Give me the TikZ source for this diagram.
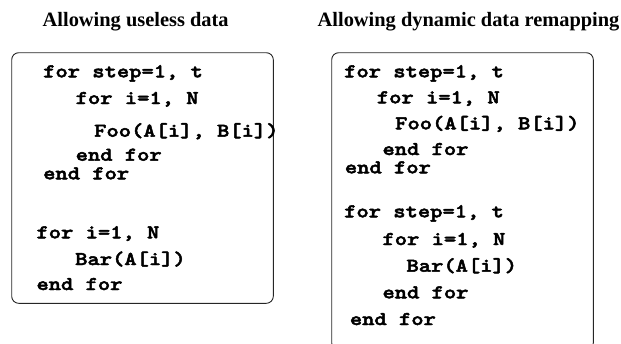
\documentclass[tikz,border=0pt]{standalone}
\usepackage{fontspec}
\setmainfont{Liberation Serif}
\newfontfamily\codefont[FakeBold=2.5,FakeStretch=1.2]{lmmonolt10-bold.otf}
\begin{document}
\begin{tikzpicture}[x=1pt,y=-1pt,
  title/.style={anchor=base west,inner sep=0pt,font=\fontsize{20.4}{24}\selectfont\bfseries},
  code/.style={anchor=base west,inner sep=0pt,font=\fontsize{19.5}{22}\selectfont\codefont},
  box/.style={draw=black!85,line width=0.9pt,rounded corners=7pt}]
\useasboundingbox (0,0) rectangle (621,343);
% titles
\node[title] (t1) at (42.5,26.7) {Allowing useless data};
\node[title] (t2) at (317.5,26.7) {Allowing dynamic data remapping};
% boxes
\draw[box] (11.7,52.7) rectangle (273.3,303.3);
\draw[box] (331.7,52.7) rectangle (593.3,350);
% left code
\node[code] (l1) at (43,77.3) {for step=1, t};
\node[code] (l2) at (75.5,104) {for i=1, N};
\node[code] (l3) at (94,136.7) {Foo(A[i], B[i])};
\node[code] (l4) at (75.5,160.7) {end for};
\node[code] (l5) at (43,179.3) {end for};
\node[code] (l6) at (36.3,238.3) {for i=1, N};
\node[code] (l7) at (75,265) {Bar(A[i])};
\node[code] (l8) at (36.3,290) {end for};
% right code
\node[code] (r1) at (344,77.3) {for step=1, t};
\node[code] (r2) at (376.7,103.3) {for i=1, N};
\node[code] (r3) at (395,129.3) {Foo(A[i], B[i])};
\node[code] (r4) at (382.3,155) {end for};
\node[code] (r5) at (344.7,173.3) {end for};
\node[code] (r6) at (344,217.3) {for step=1, t};
\node[code] (r7) at (382.3,245) {for i=1, N};
\node[code] (r8) at (406.3,271.7) {Bar(A[i])};
\node[code] (r9) at (382.3,298.3) {end for};
\node[code] (r10) at (349.7,325) {end for};
\end{tikzpicture}
\end{document}
